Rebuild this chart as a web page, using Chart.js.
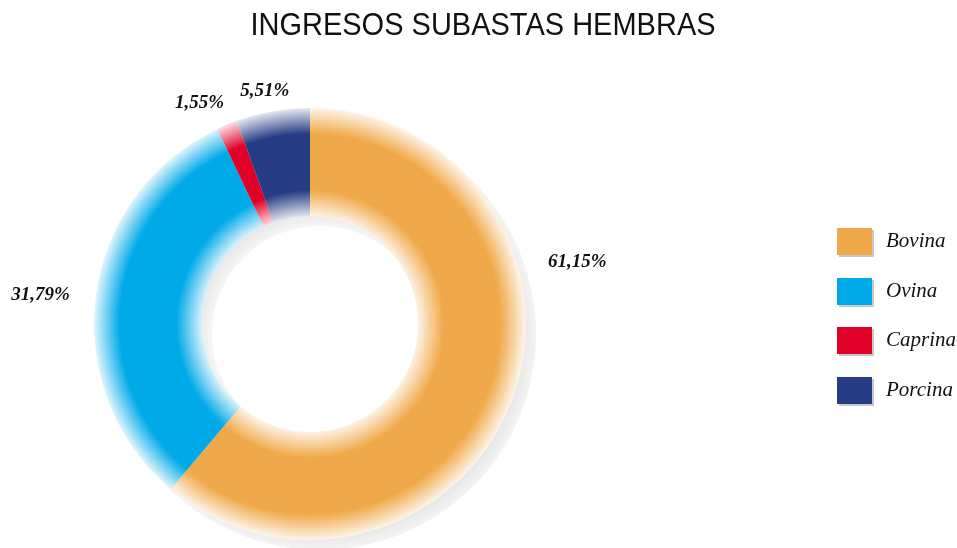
<!DOCTYPE html>
<html>
<head>
<meta charset="utf-8">
<script src="https://cdn.jsdelivr.net/npm/chart.js@4"></script>
<style>
  html, body { margin: 0; padding: 0; background: #fff; }
  #wrap { position: relative; width: 957px; height: 548px; overflow: hidden; }
  #titulo {
    position: absolute; left: 0; top: 6px; width: 966px; text-align: center;
    font-family: "Liberation Sans", Arial, sans-serif; font-size: 29px; color: #111;
    transform: scaleY(1.1); transform-origin: 50% 0;
  }
  #leyenda { position: absolute; left: 837px; top: 228px; }
  .item { position: relative; height: 49.5px; }
  .caja { position: absolute; left: 0; top: 0; width: 35px; height: 27px; box-shadow: 2px 2px 0 #c8c8c8; }
  .txt {
    position: absolute; left: 49px; top: 0px; white-space: nowrap;
    font-family: "Liberation Serif", "DejaVu Serif", serif; font-style: italic; font-size: 21px; color: #111;
  }
  canvas { position: absolute; left: 0; top: 0; }
</style>
</head>
<body>
<div id="wrap">
  <canvas id="grafico" width="957" height="548"></canvas>
  <div id="titulo">INGRESOS SUBASTAS HEMBRAS</div>
  <div id="leyenda"></div>
</div>
<script>
// Datos del gráfico
const categorias = ['Bovina', 'Ovina', 'Caprina', 'Porcina'];
const porcentajes = [61.15, 31.79, 1.55, 5.51];
const etiquetas = ['61,15%', '31,79%', '1,55%', '5,51%'];
const colores = ['#F0A94A', '#00A9E8', '#E00028', '#263C84'];

// Posición de cada etiqueta: ángulo (grados) y distancia relativa al radio exterior
const posEtiquetas = [[-13.1, 1.27], [186.1, 1.255], [-116.5, 1.145], [-101, 1.10]];

function aclarar(hex, f) {
  const r = parseInt(hex.slice(1, 3), 16), g = parseInt(hex.slice(3, 5), 16), b = parseInt(hex.slice(5, 7), 16);
  const m = c => Math.round(255 - (255 - c) * f);
  return 'rgb(' + m(r) + ',' + m(g) + ',' + m(b) + ')';
}

function geometria(chart) {
  const a = chart.chartArea;
  const cx = (a.left + a.right) / 2, cy = (a.top + a.bottom) / 2;
  const ro = Math.min(a.right - a.left, a.bottom - a.top) / 2;
  return { cx, cy, ro, ri: ro * 0.5 };
}

// Leyenda en HTML
const leyenda = document.getElementById('leyenda');
categorias.forEach((c, i) => {
  const d = document.createElement('div');
  d.className = 'item';
  d.innerHTML = '<div class="caja" style="background:' + colores[i] + '"></div><div class="txt">' + c + '</div>';
  leyenda.appendChild(d);
});

// Sombra: anillo gris desplazado hacia abajo a la derecha
const sombra = {
  id: 'sombra',
  beforeDatasetsDraw(chart) {
    const g = geometria(chart), ctx = chart.ctx;
    const sx = g.cx + 10, sy = g.cy + 10;
    const grad = ctx.createRadialGradient(sx, sy, g.ri, sx, sy, g.ro);
    grad.addColorStop(0, '#f6f6f6');
    grad.addColorStop(0.22, '#dedede');
    grad.addColorStop(0.78, '#dedede');
    grad.addColorStop(1, '#f4f4f4');
    ctx.save();
    ctx.fillStyle = grad;
    ctx.beginPath();
    ctx.arc(sx, sy, g.ro, 0, Math.PI * 2);
    ctx.arc(sx, sy, g.ri, 0, Math.PI * 2, true);
    ctx.fill();
    ctx.restore();
  }
};

// Porcentajes alrededor del anillo
const porcentajesPlugin = {
  id: 'porcentajes',
  afterDatasetsDraw(chart) {
    const g = geometria(chart), ctx = chart.ctx;
    ctx.save();
    ctx.font = 'italic bold 19px "Liberation Serif", "DejaVu Serif", serif';
    ctx.fillStyle = '#111';
    ctx.textAlign = 'center';
    ctx.textBaseline = 'middle';
    etiquetas.forEach((t, i) => {
      const ang = posEtiquetas[i][0] * Math.PI / 180, d = posEtiquetas[i][1] * g.ro;
      ctx.fillText(t, g.cx + Math.cos(ang) * d, g.cy + Math.sin(ang) * d);
    });
    ctx.restore();
  }
};

const config = {
  type: 'doughnut',
  data: {
    labels: categorias,
    datasets: [{
      data: porcentajes,
      borderWidth: 0,
      backgroundColor: function(context) {
        const chart = context.chart;
        if (!chart.chartArea) return colores[context.dataIndex];
        const g = geometria(chart);
        const col = colores[context.dataIndex];
        const grad = chart.ctx.createRadialGradient(g.cx, g.cy, g.ri, g.cx, g.cy, g.ro);
        grad.addColorStop(0, aclarar(col, 0.15));
        grad.addColorStop(0.24, col);
        grad.addColorStop(0.76, col);
        grad.addColorStop(1, aclarar(col, 0.12));
        return grad;
      }
    }]
  },
  options: {
    responsive: false,
    animation: false,
    cutout: '50%',
    layout: { padding: { left: 94, right: 431, top: 108, bottom: 8 } },
    plugins: {
      legend: { display: false },
      title: { display: false },
      tooltip: { enabled: false }
    }
  },
  plugins: [sombra, porcentajesPlugin]
};

new Chart(document.getElementById('grafico'), config);
</script>
</body>
</html>
